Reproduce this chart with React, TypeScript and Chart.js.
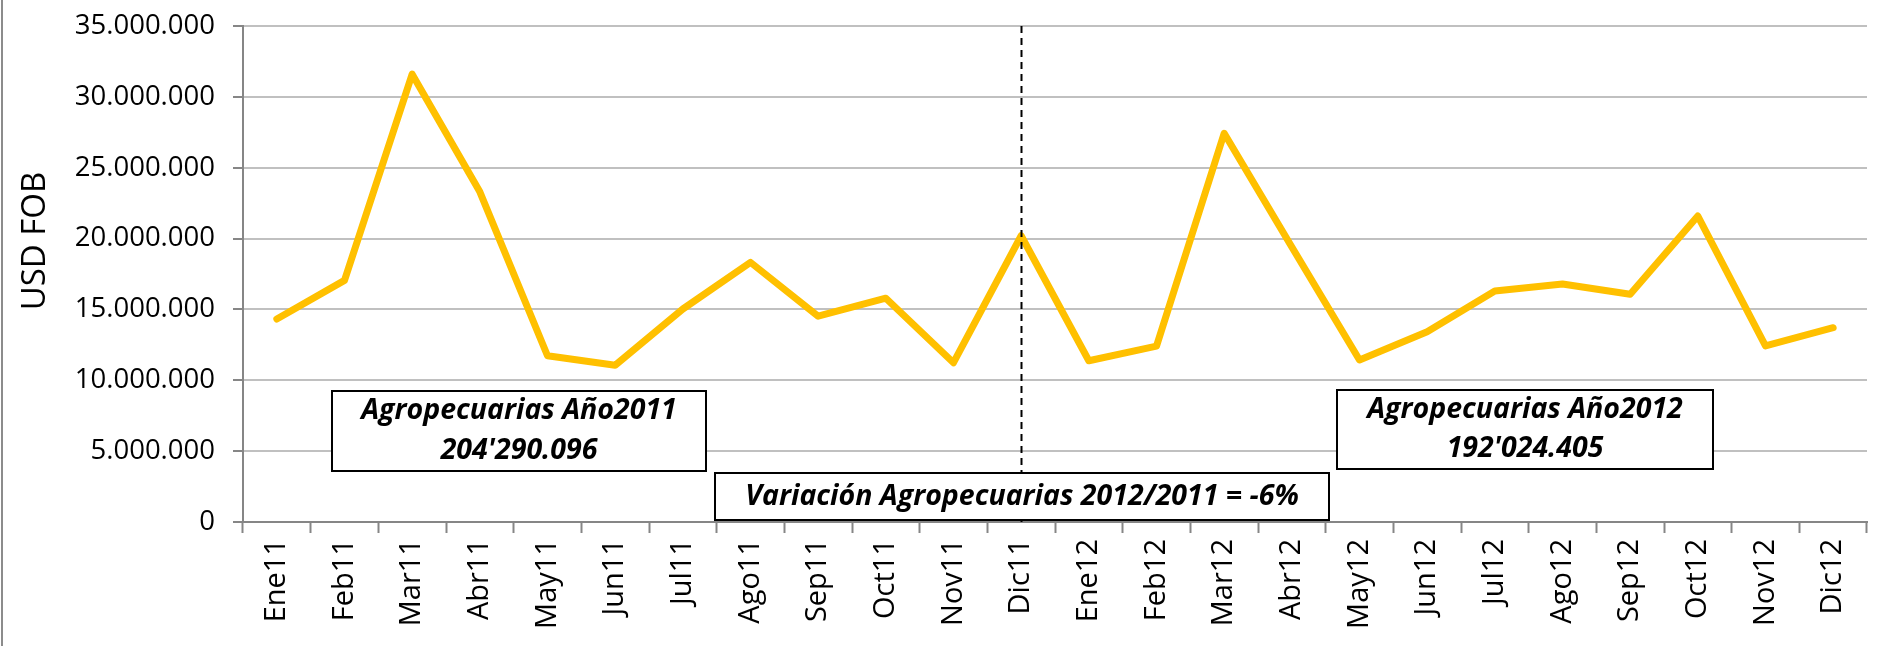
import React, { useEffect, useRef } from 'react';
import { Chart, registerables } from 'chart.js';

Chart.register(...registerables);

const categories: string[] = [
  'Ene11', 'Feb11', 'Mar11', 'Abr11', 'May11', 'Jun11', 'Jul11', 'Ago11', 'Sep11', 'Oct11', 'Nov11', 'Dic11',
  'Ene12', 'Feb12', 'Mar12', 'Abr12', 'May12', 'Jun12', 'Jul12', 'Ago12', 'Sep12', 'Oct12', 'Nov12', 'Dic12',
];

const exportValues: number[] = [
  14320000, 17050000, 31600000, 23300000, 11730000, 11060000, 15030000, 18320000, 14520000, 15790000, 11240000, 20200000,
  11380000, 12410000, 27430000, 19400000, 11430000, 13420000, 16300000, 16800000, 16070000, 21590000, 12420000, 13710000,
];

const yMin = 0;
const yMax = 35000000;
const yStep = 5000000;
const yTitle = 'USD FOB';
const dividerCategory = 'Dic11';

const noteLines2011: string[] = ['Agropecuarias Año2011', "204'290.096"];
const noteLines2012: string[] = ['Agropecuarias Año2012', "192'024.405"];
const noteVariation: string[] = ['Variación Agropecuarias 2012/2011 = -6%'];

const FONT = '"Open Sans", "Liberation Sans", sans-serif';

const fmt = (n: number) => String(Math.round(n)).replace(/\B(?=(\d{3})+(?!\d))/g, '.');

const boxes = [
  { x: 332, y: 391, w: 374, h: 80, lines: noteLines2011, lineGap: 40 },
  { x: 715, y: 473, w: 614, h: 47, lines: noteVariation, lineGap: 0 },
  { x: 1337, y: 390, w: 376, h: 79, lines: noteLines2012, lineGap: 39 },
];

const overlayPlugin = {
  id: 'overlay',
  beforeDraw(chart: any) {
    const ctx = chart.ctx;
    ctx.save();
    ctx.fillStyle = '#ffffff';
    ctx.fillRect(0, 0, chart.width, chart.height);
    ctx.strokeStyle = '#8c8c8c';
    ctx.lineWidth = 2;
    ctx.beginPath();
    ctx.moveTo(2, 0);
    ctx.lineTo(2, chart.height);
    ctx.stroke();
    ctx.restore();
  },
  afterDraw(chart: any) {
    const ctx = chart.ctx;
    const area = chart.chartArea;
    const xs = chart.scales.x;
    ctx.save();
    ctx.translate(36, 241);
    ctx.rotate(-Math.PI / 2);
    ctx.fillStyle = '#000';
    ctx.font = `33px ${FONT}`;
    ctx.textAlign = 'center';
    ctx.textBaseline = 'middle';
    ctx.fillText(yTitle, 0, 0);
    ctx.restore();

    const dx = Math.round(xs.getPixelForValue(categories.indexOf(dividerCategory))) + 0.5;
    ctx.save();
    ctx.strokeStyle = '#000';
    ctx.lineWidth = 2;
    ctx.setLineDash([7, 5]);
    ctx.beginPath();
    ctx.moveTo(dx, area.top);
    ctx.lineTo(dx, area.bottom);
    ctx.stroke();
    ctx.restore();

    for (const b of boxes) {
      ctx.save();
      ctx.fillStyle = '#fff';
      ctx.fillRect(b.x, b.y, b.w, b.h);
      ctx.strokeStyle = '#000';
      ctx.lineWidth = 2;
      ctx.strokeRect(b.x, b.y, b.w, b.h);
      ctx.fillStyle = '#000';
      ctx.font = `italic bold 28.5px ${FONT}`;
      ctx.textAlign = 'center';
      ctx.textBaseline = 'middle';
      const cx = b.x + b.w / 2;
      const cy = b.y + b.h / 2;
      const n = b.lines.length;
      b.lines.forEach((t, i) => {
        ctx.fillText(t, cx, cy + (i - (n - 1) / 2) * b.lineGap);
      });
      ctx.restore();
    }
  },
};

export default function App() {
  const ref = useRef<HTMLCanvasElement | null>(null);
  useEffect(() => {
    document.body.style.margin = '0';
    const canvas = ref.current!;
    const chart = new Chart(canvas, {
      type: 'line',
      data: {
        labels: categories,
        datasets: [
          {
            data: exportValues,
            borderColor: '#FFC000',
            backgroundColor: '#FFC000',
            borderWidth: 7,
            pointRadius: 0,
            tension: 0,
            borderJoinStyle: 'round',
            borderCapStyle: 'round',
          },
        ],
      },
      options: {
        responsive: false,
        animation: false,
        devicePixelRatio: 1,
        layout: { padding: { top: 26, right: 11, left: 0, bottom: 0 } },
        plugins: { legend: { display: false }, tooltip: { enabled: false } },
        scales: {
          x: {
            offset: true,
            grid: {
              offset: true,
              drawOnChartArea: false,
              drawTicks: true,
              tickLength: 11,
              tickColor: '#868686',
              tickWidth: 2,
            },
            border: { color: '#868686', width: 2 },
            ticks: {
              autoSkip: false,
              maxRotation: 90,
              minRotation: 90,
              padding: 6,
              color: '#000',
              font: { family: FONT, size: 29 },
            },
            afterFit: (s: any) => {
              s.height = 124;
              s.paddingLeft = 0;
              s.paddingRight = 0;
            },
          },
          y: {
            min: yMin,
            max: yMax,
            grid: {
              color: '#c0c0c0',
              lineWidth: 2,
              tickLength: 10,
              tickColor: '#868686',
              tickWidth: 2,
            },
            border: { color: '#868686', width: 2 },
            ticks: {
              stepSize: yStep,
              padding: 18,
              color: '#000',
              font: { family: FONT, size: 27.5 },
              callback: (v: any) => fmt(Number(v)),
            },
            afterFit: (s: any) => {
              s.width = 243;
              s.paddingTop = 0;
              s.paddingBottom = 0;
            },
          },
        },
      },
      plugins: [overlayPlugin],
    } as any);
    return () => chart.destroy();
  }, []);
  return <canvas ref={ref} width={1878} height={646} style={{ display: 'block' }} />;
}
